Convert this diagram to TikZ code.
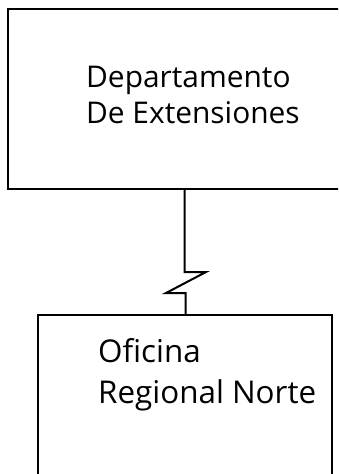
\documentclass[tikz,border=0pt]{standalone}
\usepackage{fontspec}
\setmainfont{Open Sans}
\begin{document}
\begin{tikzpicture}[x=1bp,y=-1bp,
  boxline/.style={draw=black,line width=2bp},
  lbl/.style={anchor=base west,inner sep=0pt,font=\fontsize{30}{32}\selectfont},
  lblb/.style={lbl,font=\fontsize{31.5}{34}\selectfont}]
\useasboundingbox (0,0) rectangle (338,474);
\begin{scope}
\clip (0,0) rectangle (338,474);
\draw[boxline] (8,9) rectangle (350,189);
\draw[boxline] (38,315) rectangle (332,490);
\end{scope}
\coordinate (top) at (184.5,189);
\coordinate (bot) at (185.5,315);
\node[lbl] (t1) at (86,88) {Departamento};
\node[lbl] (t2) at (86,124) {De Extensiones};
\node[lblb] (b1) at (98,362) {Oficina};
\node[lblb] (b2) at (98,403) {Regional Norte};
\draw[boxline] (top) -- (184.5,272) -- (206,272) -- (166,293) -- (185.5,293) -- (bot);
\end{tikzpicture}
\end{document}
